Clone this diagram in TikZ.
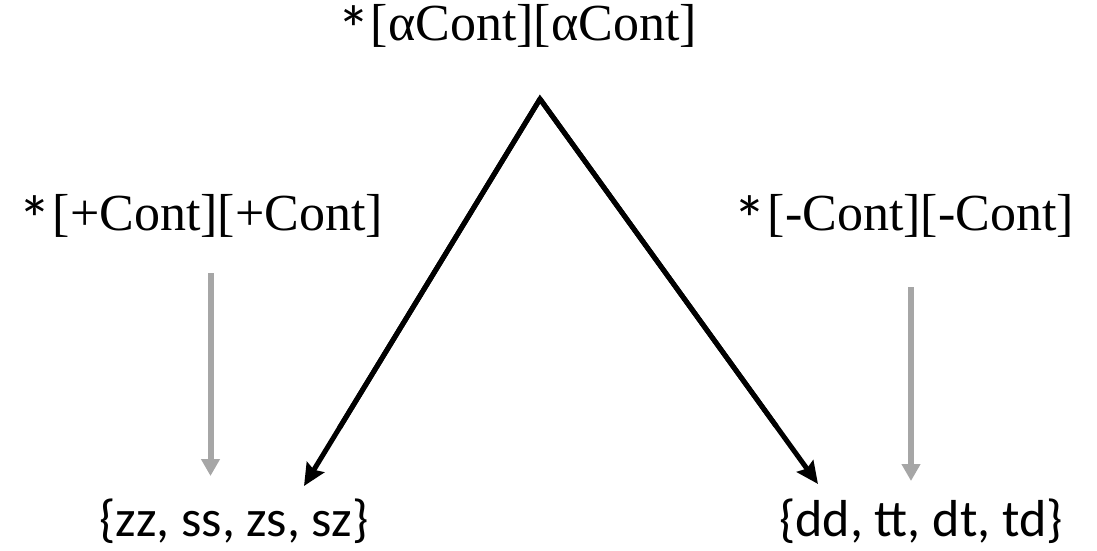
\documentclass[tikz,border=0pt]{standalone}
\usepackage{fontspec}
\setmainfont{Liberation Serif}
\newfontfamily\calib{Carlito}
\usetikzlibrary{arrows.meta,calc}
\definecolor{arrgray}{HTML}{A6A6A6}
\newcommand{\mystar}{\raisebox{-12pt}{\calib\fontsize{66}{70}\selectfont *}\kern1pt}
\tikzset{
  serlabel/.style={font=\fontsize{52}{56}\selectfont, inner sep=0pt, anchor=base},
  sanlabel/.style={font=\calib\fontsize{52}{56}\selectfont, inner sep=0pt, anchor=base},
  blackarr/.style={line width=5pt, -{Stealth[length=22pt,width=20pt,inset=3pt]}},
  grayarr/.style={line width=6pt, draw=arrgray, -{Triangle[length=17pt,width=18pt]}, arrgray},
}
\begin{document}
\begin{tikzpicture}[x=1pt,y=-1pt]
\useasboundingbox (0,0) rectangle (1097,550);
\node[serlabel] (top) at (517,40) {\mystar[αCont][αCont]};
\node[serlabel] (lft) at (201,230) {\mystar[+Cont][+Cont]};
\node[serlabel] (rgt) at (904,230) {\mystar[-Cont][-Cont]};
\node[sanlabel] (bl) at (234,536) {\{zz, ss, zs, sz\}};
\node[sanlabel] (br) at (921,536) {\{dd, tt, dt, td\}};
\coordinate (apex) at (540,99);
\coordinate (blend) at (304,486);
\coordinate (brend) at (818,484);
\coordinate (gls) at (210.5,273);
\coordinate (gle) at (210.5,476);
\coordinate (grs) at (911,287);
\coordinate (gre) at (911,481);
\draw[line width=5pt, line join=miter] ($(apex)!0.85!(blend)$) -- (apex) -- ($(apex)!0.85!(brend)$);
\draw[blackarr] (apex) -- (blend);
\draw[blackarr] (apex) -- (brend);
\draw[grayarr] (gls) -- (gle);
\draw[grayarr] (grs) -- (gre);
\end{tikzpicture}
\end{document}
